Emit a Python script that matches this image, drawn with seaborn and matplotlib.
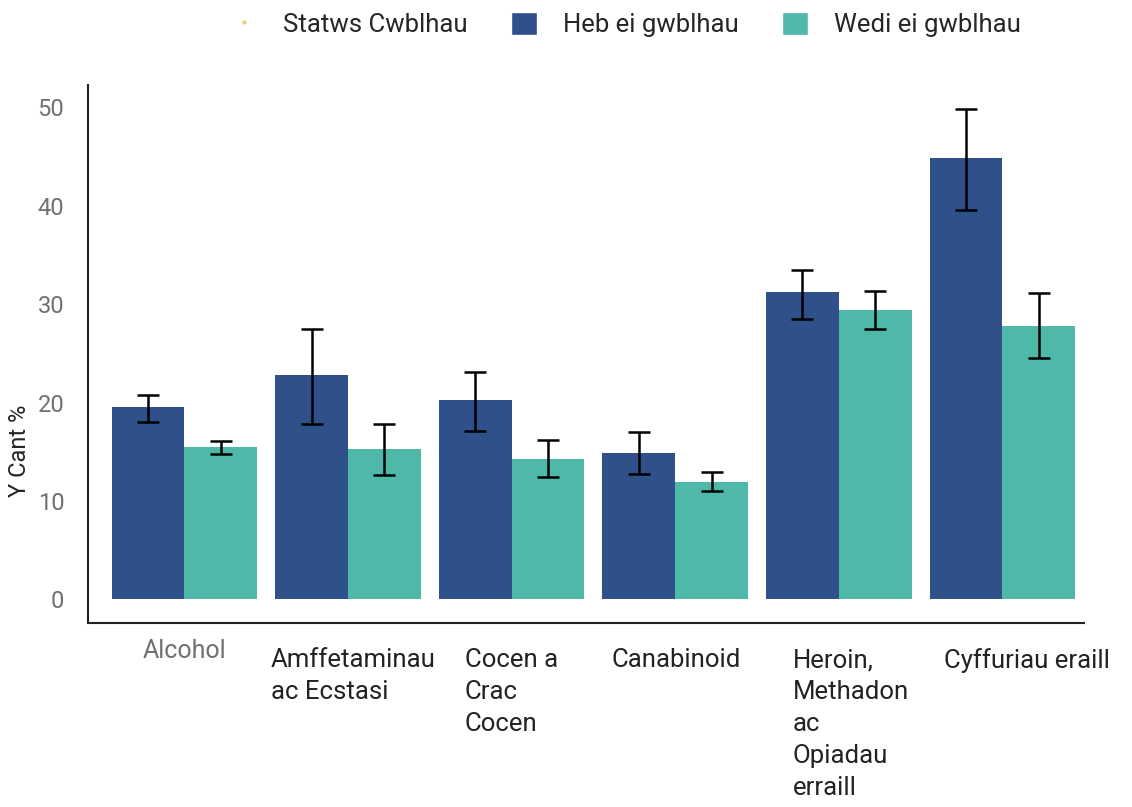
import matplotlib
matplotlib.use("Agg")
import matplotlib.pyplot as plt
import matplotlib.transforms as mtransforms
from matplotlib.lines import Line2D
from matplotlib.patches import Patch
import seaborn as sns
import pandas as pd

categories = ["Alcohol", "Amffetaminau ac Ecstasi", "Cocen a Crac Cocen",
              "Canabinoid", "Heroin, Methadon ac Opiadau erraill", "Cyffuriau eraill"]
tick_labels = ["Alcohol", "Amffetaminau\nac Ecstasi", "Cocen a\nCrac\nCocen",
               "Canabinoid", "Heroin,\nMethadon\nac\nOpiadau\nerraill", "Cyffuriau eraill"]
statuses = ["Heb ei gwblhau", "Wedi ei gwblhau"]

heb = [19.6, 22.8, 20.3, 14.9, 31.2, 44.9]
heb_low = [18.0, 17.8, 17.1, 12.7, 28.5, 39.6]
heb_high = [20.8, 27.5, 23.1, 17.0, 33.5, 49.8]

wedi = [15.5, 15.3, 14.3, 11.9, 29.4, 27.8]
wedi_low = [14.8, 12.6, 12.4, 11.0, 27.5, 24.5]
wedi_high = [16.1, 17.8, 16.2, 12.9, 31.3, 31.1]

colors = {"Heb ei gwblhau": "#30508a", "Wedi ei gwblhau": "#4fb9a9"}

df = pd.DataFrame({
    "cat": categories * 2,
    "val": heb + wedi,
    "status": [statuses[0]] * 6 + [statuses[1]] * 6,
})

sns.set_style("white")
plt.rcParams["font.family"] = ["Roboto", "DejaVu Sans"]

fig = plt.figure(figsize=(11.32, 8.07), dpi=100)
ax = fig.add_axes([0.0777, 0.228, 0.880, 0.667])

sns.barplot(data=df, x="cat", y="val", hue="status", order=categories,
            hue_order=statuses, palette=colors, width=0.89, errorbar=None,
            saturation=1, legend=False, linewidth=0, ax=ax)

# error bars from bar centres
for cont, vals, lo, hi in zip(ax.containers, [heb, wedi], [heb_low, wedi_low],
                              [heb_high, wedi_high]):
    xs = [p.get_x() + p.get_width() / 2 for p in cont.patches]
    ax.errorbar(xs, vals,
                yerr=[[v - l for v, l in zip(vals, lo)], [h - v for v, h in zip(vals, hi)]],
                fmt="none", ecolor="black", elinewidth=1.8, capsize=8, capthick=1.8)

ax.set_xlim(-0.59, 5.5)
ax.set_ylim(-2.4, 52.3)
ax.set_yticks([0, 10, 20, 30, 40, 50])
ax.set_yticklabels(["0", "10", "20", "30", "40", "50"], fontsize=17, color="#707070")
ax.set_xlabel("")
ax.set_ylabel("Y Cant %", fontsize=17)
ax.yaxis.set_label_coords(-0.057, 0.32)

ax.set_xticks(range(len(categories)))
ax.set_xticklabels(tick_labels, fontsize=18.5, color="#222222", linespacing=1.42)
ax.tick_params(axis="x", length=8, width=1.2, color="#333333", pad=10)
ax.tick_params(axis="y", length=9, width=1.2, color="#333333", pad=8)

# the labels are left-aligned under each group, Alcohol centred
x_shift = [0, -77, -47, -64, -46, -58]
y_shift = [9, 0, 0, 0, 0, 0]
for lab, dx, dy in zip(ax.get_xticklabels(), x_shift, y_shift):
    if dx != 0:
        lab.set_ha("left")
    else:
        lab.set_color("#707070")
        lab.set_fontsize(18)
    lab.set_transform(lab.get_transform() +
                      mtransforms.ScaledTranslation(dx / 100, dy / 100, fig.dpi_scale_trans))

for side in ["top", "right"]:
    ax.spines[side].set_visible(False)
for side in ["left", "bottom"]:
    ax.spines[side].set_color("#222222")
    ax.spines[side].set_linewidth(1.5)

handles = [Line2D([], [], marker="o", linestyle="", color="#f2c46d", markersize=2),
           Patch(facecolor=colors["Heb ei gwblhau"]),
           Patch(facecolor=colors["Wedi ei gwblhau"])]
fig.legend(handles, ["Statws Cwblhau", "Heb ei gwblhau", "Wedi ei gwblhau"],
           loc="upper center", bbox_to_anchor=(0.553, 1.014), ncol=3, frameon=False,
           fontsize=18.5, handlelength=1.0, handleheight=1.0, handletextpad=1.0,
           columnspacing=1.7)

fig.savefig("out.png", dpi=100)
